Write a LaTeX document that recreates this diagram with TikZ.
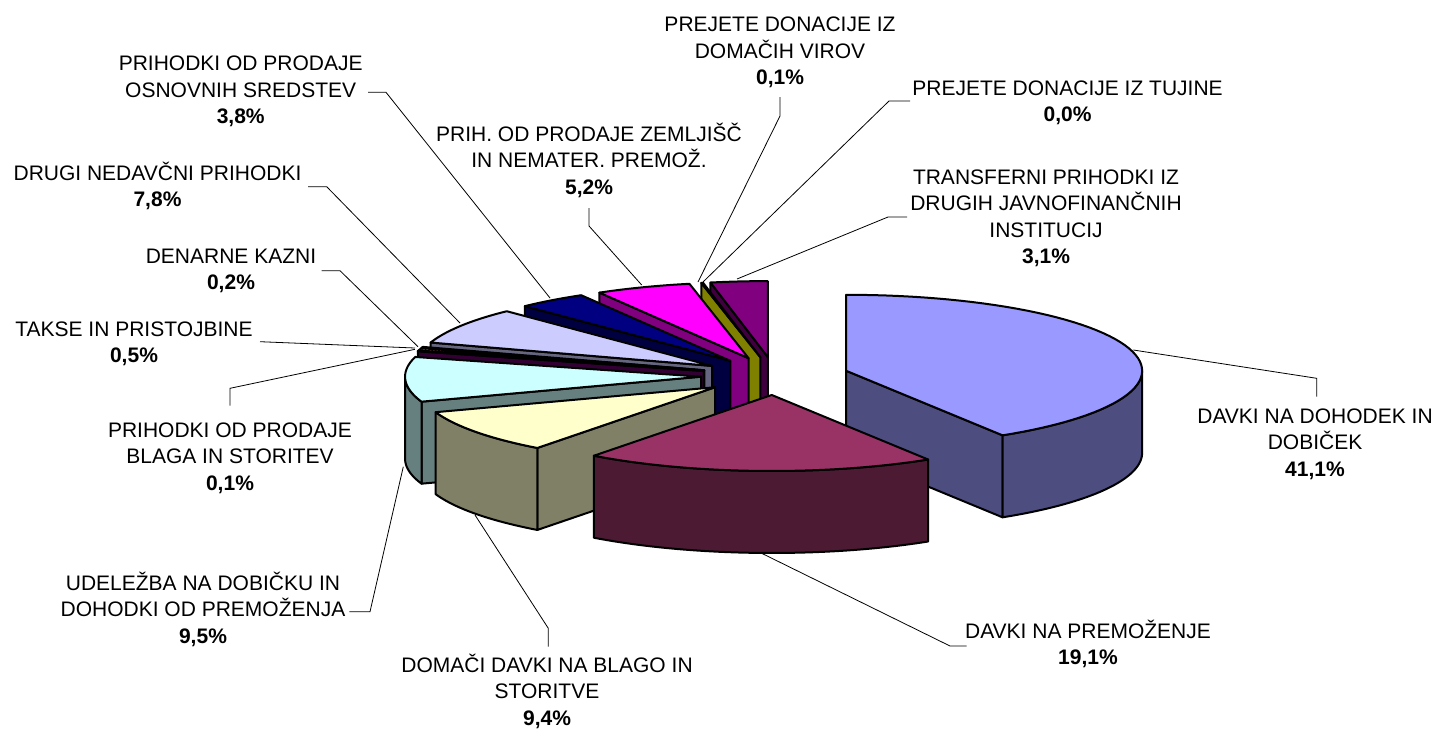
\documentclass[tikz,border=0pt]{standalone}
\usepackage{fontspec}
\setmainfont{Liberation Sans}
\definecolor{cDOt}{HTML}{9999FF}\definecolor{cDOs}{HTML}{4D4D80}
\definecolor{cPRt}{HTML}{993366}\definecolor{cPRs}{HTML}{4D1A33}
\definecolor{cDMt}{HTML}{FFFFCC}\definecolor{cDMs}{HTML}{808066}
\definecolor{cUDt}{HTML}{CCFFFF}\definecolor{cUDs}{HTML}{668080}
\definecolor{cBLt}{HTML}{660066}\definecolor{cBLs}{HTML}{330033}
\definecolor{cTAt}{HTML}{FF8080}\definecolor{cTAs}{HTML}{804040}
\definecolor{cDEt}{HTML}{0066CC}\definecolor{cDEs}{HTML}{003366}
\definecolor{cDRt}{HTML}{CCCCFF}\definecolor{cDRs}{HTML}{666680}
\definecolor{cOSt}{HTML}{000080}\definecolor{cOSs}{HTML}{000040}
\definecolor{cZEt}{HTML}{FF00FF}\definecolor{cZEs}{HTML}{800080}
\definecolor{cDVt}{HTML}{FFFF00}\definecolor{cDVs}{HTML}{808000}
\definecolor{cTRt}{HTML}{800080}\definecolor{cTRs}{HTML}{400040}
\newcommand\lab[1]{\begin{tabular}[t]{@{}c@{}}#1\end{tabular}}
\newcommand\pieslice[4]{%
  \pgfmathsetmacro\psA{#1}%
  \pgfmathsetmacro\psB{#2}%
  \pgfmathsetmacro\psM{(\psA+\psB)/2}%
  \pgfmathsetmacro\psCx{775+74*sin(\psM)}%
  \pgfmathsetmacro\psCy{376-19*cos(\psM)}%
  \pgfmathsetmacro\psSx{\psCx+296*sin(\psA)}%
  \pgfmathsetmacro\psSy{\psCy-76*cos(\psA)}%
  \pgfmathsetmacro\psEx{\psCx+296*sin(\psB)}%
  \pgfmathsetmacro\psEy{\psCy-76*cos(\psB)}%
  \pgfmathtruncatemacro\psSv{sin(\psA) < -0.001 ? 1 : 0}%
  \pgfmathtruncatemacro\psEv{sin(\psB) > 0.001 ? 1 : 0}%
  \pgfmathsetmacro\psWa{max(\psA,90)}%
  \pgfmathsetmacro\psWb{min(\psB,270)}%
  \pgfmathtruncatemacro\psWv{\psWb > \psWa ? 1 : 0}%
  \ifnum\psSv=1
    \filldraw[pieedge,fill=#4] (\psCx,\psCy) -- (\psSx,\psSy) -- ({\psSx},{\psSy+82}) -- ({\psCx},{\psCy+82}) -- cycle;
  \fi
  \ifnum\psEv=1
    \filldraw[pieedge,fill=#4] (\psCx,\psCy) -- (\psEx,\psEy) -- ({\psEx},{\psEy+82}) -- ({\psCx},{\psCy+82}) -- cycle;
  \fi
  \ifnum\psWv=1
    \filldraw[pieedge,fill=#4] plot[domain=\psWa:\psWb,samples=50] ({\psCx+296*sin(\x)},{\psCy-76*cos(\x)}) -- plot[domain=\psWb:\psWa,samples=50] ({\psCx+296*sin(\x)},{\psCy-76*cos(\x)+82}) -- cycle;
  \fi
  \filldraw[pieedge,fill=#3] (\psCx,\psCy) -- plot[domain=\psA:\psB,samples=60] ({\psCx+296*sin(\x)},{\psCy-76*cos(\x)}) -- cycle;
}
\begin{document}
\begin{tikzpicture}[x=1pt,y=-1pt,
  pieedge/.style={draw=black,line width=2pt,line join=round},
  leader/.style={draw=black,line width=0.8pt},
  lbl/.style={anchor=base,inner sep=0pt,font=\fontsize{21}{26.5}\selectfont}]
\useasboundingbox (0,0) rectangle (1439,731);
\fill[white] (0,0) rectangle (1439,731);
% pie slices, back to front
\pieslice{348.83}{360}{cTRt}{cTRs}
\pieslice{348.47}{348.83}{cDVt}{cDVs}
\pieslice{329.73}{348.47}{cZEt}{cZEs}
\pieslice{316.04}{329.73}{cOSt}{cOSs}
\pieslice{287.93}{316.04}{cDRt}{cDRs}
\pieslice{287.21}{287.93}{cDEt}{cDEs}
\pieslice{285.41}{287.21}{cTAt}{cTAs}
\pieslice{0}{148.11}{cDOt}{cDOs}
\pieslice{285.05}{285.41}{cBLt}{cBLs}
\pieslice{250.81}{285.05}{cUDt}{cUDs}
\pieslice{216.94}{250.81}{cDMt}{cDMs}
\pieslice{148.11}{216.94}{cPRt}{cPRs}
% labels
\node[lbl] (lDV) at (780,31.6) {\lab{PREJETE DONACIJE IZ\\DOMAČIH VIROV\\\textbf{0,1\%}}};
\node[lbl] (lTU) at (1067.5,95) {\lab{PREJETE DONACIJE IZ TUJINE\\\textbf{0,0\%}}};
\node[lbl] (lTR) at (1046,184) {\lab{TRANSFERNI PRIHODKI IZ\\DRUGIH JAVNOFINANČNIH\\INSTITUCIJ\\\textbf{3,1\%}}};
\node[lbl] (lOS) at (240.7,70.6) {\lab{PRIHODKI OD PRODAJE\\OSNOVNIH SREDSTEV\\\textbf{3,8\%}}};
\node[lbl] (lZE) at (589,141) {\lab{PRIH. OD PRODAJE ZEMLJIŠČ\\IN NEMATER. PREMOŽ.\\\textbf{5,2\%}}};
\node[lbl] (lDR) at (157.5,180) {\lab{DRUGI NEDAVČNI PRIHODKI\\\textbf{7,8\%}}};
\node[lbl] (lDE) at (231,263) {\lab{DENARNE KAZNI\\\textbf{0,2\%}}};
\node[lbl] (lTA) at (134,336) {\lab{TAKSE IN PRISTOJBINE\\\textbf{0,5\%}}};
\node[lbl] (lBL) at (230,437) {\lab{PRIHODKI OD PRODAJE\\BLAGA IN STORITEV\\\textbf{0,1\%}}};
\node[lbl] (lDO) at (1315,423.3) {\lab{DAVKI NA DOHODEK IN\\DOBIČEK\\\textbf{41,1\%}}};
\node[lbl] (lUD) at (203,590) {\lab{UDELEŽBA NA DOBIČKU IN\\DOHODKI OD PREMOŽENJA\\\textbf{9,5\%}}};
\node[lbl] (lDM) at (547,672) {\lab{DOMAČI DAVKI NA BLAGO IN\\STORITVE\\\textbf{9,4\%}}};
\node[lbl] (lPR) at (1088,638.3) {\lab{DAVKI NA PREMOŽENJE\\\textbf{19,1\%}}};
% leader points
\coordinate (aDV1) at (780,97);   \coordinate (aDV2) at (780,116);   \coordinate (aDV3) at (698,282);
\coordinate (aTU1) at (910,101);  \coordinate (aTU2) at (889,101);   \coordinate (aTU3) at (703,282);
\coordinate (aTR1) at (907,217);  \coordinate (aTR2) at (888,217);   \coordinate (aTR3) at (737,279);
\coordinate (aOS1) at (368,92.3); \coordinate (aOS2) at (386,92.3);  \coordinate (aOS3) at (550,298);
\coordinate (aZE1) at (589,208);  \coordinate (aZE2) at (589,226);   \coordinate (aZE3) at (641.7,285);
\coordinate (aDR1) at (308,186.7);\coordinate (aDR2) at (326.7,186.7);\coordinate (aDR3) at (460,323);
\coordinate (aDE1) at (321.7,270.7);\coordinate (aDE2) at (340,270.7);\coordinate (aDE3) at (418,346.7);
\coordinate (aTA1) at (260,341.7);\coordinate (aTA2) at (415,348);
\coordinate (aBL1) at (230,405.7);\coordinate (aBL2) at (230,388.3); \coordinate (aBL3) at (415,349.3);
\coordinate (aDO1) at (1316.7,396.7);\coordinate (aDO2) at (1316.7,378.3);\coordinate (aDO3) at (1133.3,350);
\coordinate (aUD1) at (349.3,611.7);\coordinate (aUD2) at (370,611.7);\coordinate (aUD3) at (403.3,466.7);
\coordinate (aDM1) at (548.3,646.7);\coordinate (aDM2) at (548.3,628.3);\coordinate (aDM3) at (475,515);
\coordinate (aPR1) at (966.7,646);\coordinate (aPR2) at (950,646);   \coordinate (aPR3) at (761.7,553.3);
\draw[leader] (aDV1) -- (aDV2) -- (aDV3);
\draw[leader] (aTU1) -- (aTU2) -- (aTU3);
\draw[leader] (aTR1) -- (aTR2) -- (aTR3);
\draw[leader] (aOS1) -- (aOS2) -- (aOS3);
\draw[leader] (aZE1) -- (aZE2) -- (aZE3);
\draw[leader] (aDR1) -- (aDR2) -- (aDR3);
\draw[leader] (aDE1) -- (aDE2) -- (aDE3);
\draw[leader] (aTA1) -- (aTA2);
\draw[leader] (aBL1) -- (aBL2) -- (aBL3);
\draw[leader] (aDO1) -- (aDO2) -- (aDO3);
\draw[leader] (aUD1) -- (aUD2) -- (aUD3);
\draw[leader] (aDM1) -- (aDM2) -- (aDM3);
\draw[leader] (aPR1) -- (aPR2) -- (aPR3);
\end{tikzpicture}
\end{document}
